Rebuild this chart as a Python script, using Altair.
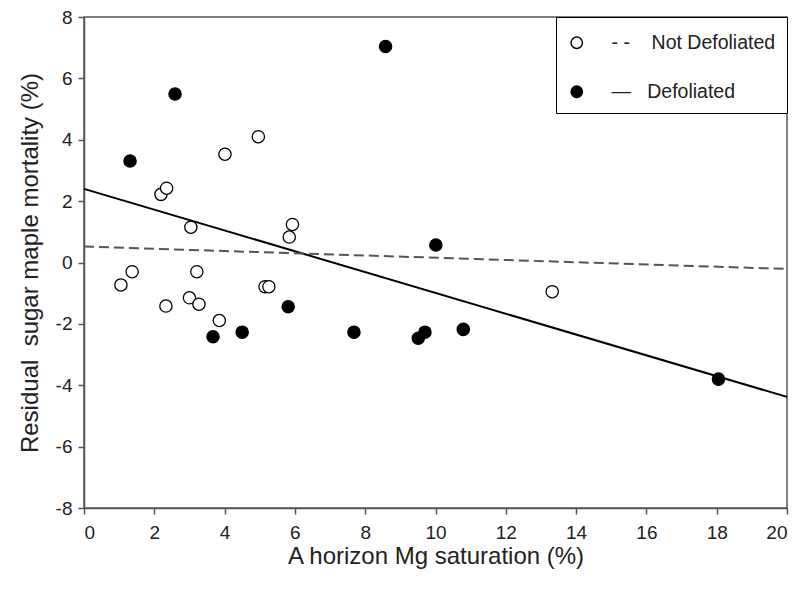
import altair as alt
import pandas as pd

# Not defoliated (open circles)
nd_x = [1.05, 1.37, 2.19, 2.35, 2.33, 3.04, 3.00, 3.21, 3.27, 3.85, 4.01, 4.96, 5.15, 5.26, 5.84, 5.93, 13.32]
nd_y = [-0.73, -0.30, 2.22, 2.42, -1.42, 1.15, -1.15, -0.30, -1.36, -1.89, 3.53, 4.10, -0.79, -0.79, 0.83, 1.24, -0.95]

# Defoliated (filled circles)
d_x = [1.31, 2.59, 3.67, 4.50, 5.81, 7.68, 8.58, 9.51, 9.70, 10.01, 10.79, 18.05]
d_y = [3.31, 5.49, -2.42, -2.27, -1.44, -2.27, 7.04, -2.47, -2.27, 0.57, -2.18, -3.80]

# Regression lines
fit_x = [0, 20]
solid_y = [2.40, -4.38]
dashed_y = [0.52, -0.21]

groups = ["Not Defoliated", "Defoliated"]

pts = pd.DataFrame({
    "x": nd_x + d_x,
    "y": nd_y + d_y,
    "group": [groups[0]] * len(nd_x) + [groups[1]] * len(d_x),
})
solid = pd.DataFrame({"x": fit_x, "y": solid_y})
dashed = pd.DataFrame({"x": fit_x, "y": dashed_y})

FONT = "Liberation Sans"
NB = "\u00a0"
xs = alt.Scale(domain=[0, 20], nice=False, zero=False)
ys = alt.Scale(domain=[-8, 8], nice=False, zero=False)

fix_minus = "replace(datum.label, '\u2212', '-')"
xaxis = alt.Axis(values=list(range(0, 21, 2)), title="A horizon Mg saturation (%)",
                 grid=False, tickSize=6, labelPadding=9, titlePadding=2, labelExpr=fix_minus)
yaxis = alt.Axis(values=list(range(-8, 9, 2)), title="Residual" + NB + " sugar maple mortality (%)",
                 grid=False, tickSize=6, labelPadding=6, titlePadding=13, labelExpr=fix_minus)

solid_line = alt.Chart(solid).mark_line(color="black", strokeWidth=2).encode(
    x=alt.X("x:Q", scale=xs, axis=xaxis),
    y=alt.Y("y:Q", scale=ys, axis=yaxis),
)
dashed_line = alt.Chart(dashed).mark_line(color="#555555", strokeWidth=2, strokeDash=[10, 5]).encode(
    x=alt.X("x:Q", scale=xs),
    y=alt.Y("y:Q", scale=ys),
)

label_expr = ("datum.label == 'Not Defoliated' ? '- -" + NB * 4 + "Not Defoliated' : '\u2014"
              + NB * 3 + "Defoliated'")

points = alt.Chart(pts).mark_circle(size=150, opacity=1, stroke="black", strokeWidth=1.3).encode(
    x=alt.X("x:Q", scale=xs),
    y=alt.Y("y:Q", scale=ys),
    fill=alt.Fill(
        "group:N",
        scale=alt.Scale(domain=groups, range=["white", "black"]),
        legend=alt.Legend(
            title=NB,
            titleFontSize=1,
            titlePadding=4,
            orient="top-right",
            offset=0,
            padding=11,
            strokeColor="black",
            fillColor="white",
            symbolType="circle",
            symbolSize=130,
            symbolStrokeColor="black",
            symbolStrokeWidth=1.5,
            labelFontSize=19.5,
            labelFont=FONT,
            labelColor="#222222",
            rowPadding=28,
            labelOffset=25,
            labelExpr=label_expr,
            labelLimit=400,
        ),
    ),
)

chart = alt.layer(solid_line, dashed_line, points).properties(
    width=703, height=491,
    autosize=alt.AutoSizeParams(type="none"),
    padding={"left": 76, "top": 9, "right": 3, "bottom": 75},
).configure_view(
    stroke="#555555", strokeWidth=1.5
).configure_axis(
    labelFont=FONT, titleFont=FONT, labelFontSize=19, titleFontSize=24,
    labelColor="#222222", titleColor="#222222", titleFontWeight="normal",
    domainColor="#555555", tickColor="#555555", domainWidth=1.5, tickWidth=1.5,
)

chart.save("out.html", embed_options={"renderer": "svg", "actions": False})
